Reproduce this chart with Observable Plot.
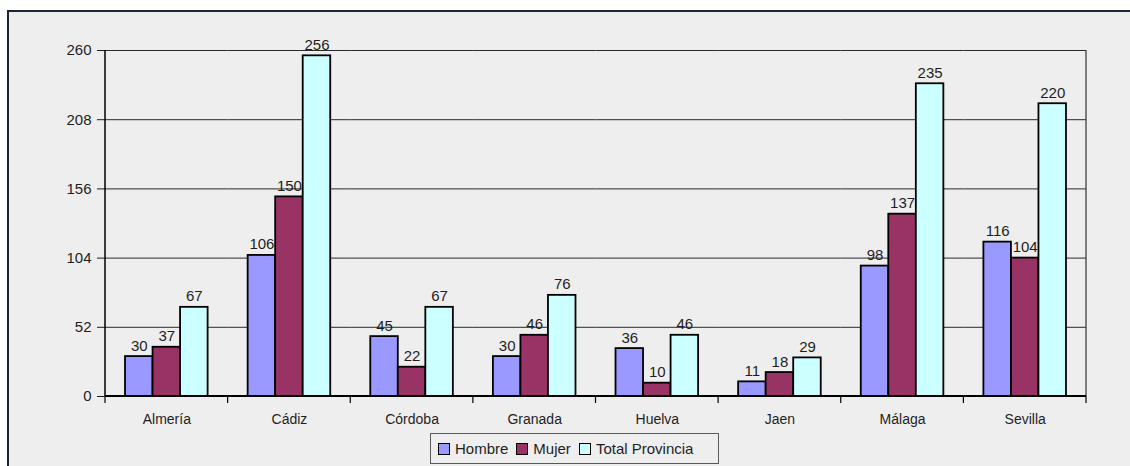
<!DOCTYPE html>
<html>
<head>
<meta charset="utf-8">
<script src="https://cdn.jsdelivr.net/npm/d3@7"></script>
<script src="https://cdn.jsdelivr.net/npm/@observablehq/plot@0.6"></script>
<style>
  html, body { margin: 0; padding: 0; background: #ffffff; }
  #wrap { position: relative; width: 1130px; height: 466px; overflow: hidden; background: #ffffff; }
  #panel { position: absolute; left: 7px; top: 10px; width: 1200px; height: 520px;
           border-left: 2px solid #1b2536; border-top: 2px solid #1b2536; background: #eeeeee; }
  #chart { position: absolute; left: 0; top: 0; }
  #legend { position: absolute; left: 430px; top: 433px; width: 287px; height: 29px;
            border: 1px solid #5a5a5a; background: #eeeeee; display: flex; align-items: center;
            font-family: "Liberation Sans", Arial, sans-serif; font-size: 15px; color: #1e1e1e; }
  #legend .item { display: flex; align-items: center; margin-left: 7px; }
  #legend .item + .item { margin-left: 8px; }
  #legend .sw { width: 10px; height: 10px; border: 1px solid #000; margin-right: 5px; }
</style>
</head>
<body>
<div id="wrap">
  <div id="panel"></div>
  <div id="chart"></div>
  <div id="legend"></div>
</div>
<script>
// Personas por provincia, desglosadas por sexo
const provincias = ["Almería", "Cádiz", "Córdoba", "Granada", "Huelva", "Jaen", "Málaga", "Sevilla"];
const series = ["Hombre", "Mujer", "Total Provincia"];
const hombre = [30, 106, 45, 30, 36, 11, 98, 116];
const mujer = [37, 150, 22, 46, 10, 18, 137, 104];
const totalProvincia = [67, 256, 67, 76, 46, 29, 235, 220];
const colores = ["#9999FF", "#993366", "#CCFFFF"];
const yTicks = [0, 52, 104, 156, 208, 260];

const valores = [hombre, mujer, totalProvincia];
const filas = provincias.flatMap((p, i) =>
  series.map((s, k) => ({provincia: p, serie: s, valor: valores[k][i]}))
);

const chart = Plot.plot({
  width: 1130,
  height: 466,
  marginLeft: 105,
  marginRight: 44,
  marginTop: 50,
  marginBottom: 70,
  style: {background: "transparent", fontFamily: "Liberation Sans, Arial, sans-serif", fontSize: "15px", color: "#1e1e1e"},
  fx: {domain: provincias, padding: 0, round: false, label: null},
  x: {domain: series, paddingInner: 0, paddingOuter: 0.727, round: false, axis: null},
  y: {domain: [0, 260], ticks: yTicks, tickSize: 8, tickPadding: 6, label: null},
  color: {domain: series, range: colores},
  marks: [
    Plot.gridY(yTicks, {stroke: "#2a2a2a", strokeOpacity: 1, strokeWidth: 1}),
    Plot.barY(filas, {fx: "provincia", x: "serie", y: "valor", fill: "serie", stroke: "#000", strokeWidth: 1.8}),
    Plot.text(filas, {fx: "provincia", x: "serie", y: "valor", text: d => String(d.valor),
                      lineAnchor: "bottom", dy: -6, fill: "#1e1e1e"}),
    Plot.axisFx({anchor: "bottom", tickSize: 0, tickPadding: 18, fontSize: 14, label: null})
  ]
});
document.getElementById("chart").appendChild(chart);

// Plot-area lines: value axis, right border, category axis and the ticks between categories
const fx = chart.scale("fx");
const y = chart.scale("y");
const svg = d3.select(chart);
const y0 = y.apply(0);
const yTop = y.apply(260);
const left = fx.apply(provincias[0]);
const right = fx.apply(provincias[provincias.length - 1]) + fx.bandwidth;
const lines = svg.append("g").attr("stroke", "#000").attr("fill", "none");
lines.append("line").attr("x1", left).attr("x2", left).attr("y1", yTop).attr("y2", y0).attr("stroke-width", 1.5);
lines.append("line").attr("x1", right).attr("x2", right).attr("y1", yTop).attr("y2", y0).attr("stroke-width", 1.2).attr("stroke", "#333");
lines.append("line").attr("x1", left).attr("x2", right).attr("y1", y0).attr("y2", y0).attr("stroke-width", 1.8);
const bordes = provincias.map(p => fx.apply(p)).concat([right]);
lines.selectAll("line.tick").data(bordes).join("line").attr("class", "tick")
  .attr("x1", d => d).attr("x2", d => d).attr("y1", y0).attr("y2", y0 + 7).attr("stroke-width", 1.2);

// Leyenda
const legend = d3.select("#legend");
series.forEach((s, k) => {
  const item = legend.append("div").attr("class", "item");
  item.append("div").attr("class", "sw").style("background", colores[k]);
  item.append("span").text(s);
});
</script>
</body>
</html>
